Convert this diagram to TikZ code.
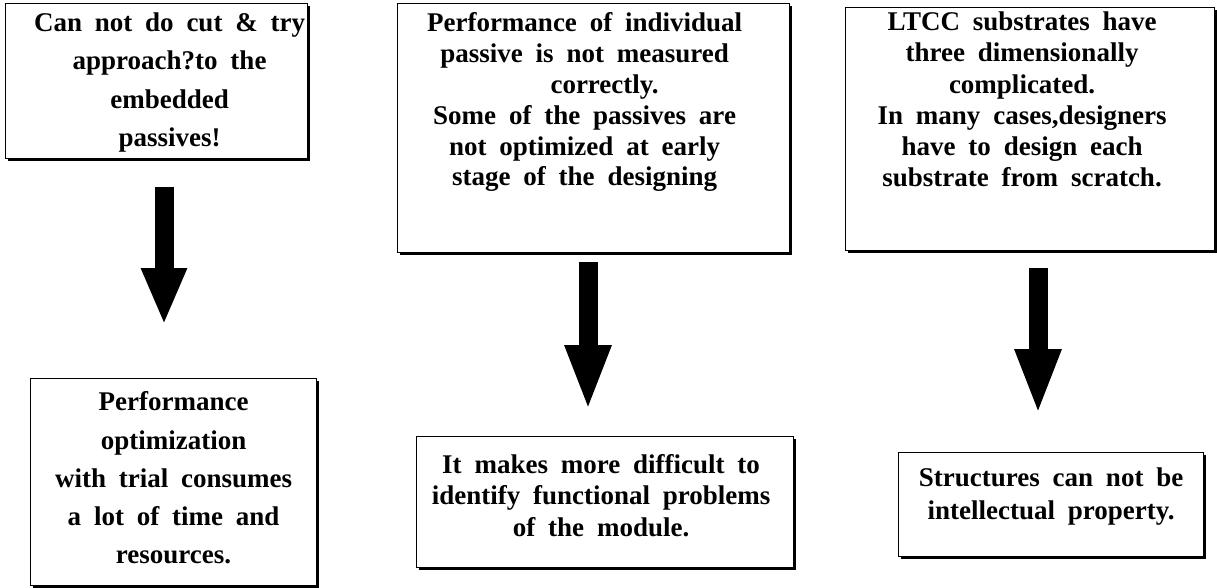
\documentclass[tikz,border=0pt]{standalone}
\usepackage{fontspec}
\setmainfont{Liberation Serif}[WordSpace=1.9]
\usetikzlibrary{arrows.meta, shadows}

% width, height, top pad, leading, x offset, text
\newcommand{\boxtext}[6]{%
  \parbox[c][#2pt][t]{#1pt}{\centering
    \advance\leftskip by #5pt\advance\leftskip by #5pt
    \fontsize{27pt}{#4pt}\selectfont\bfseries
    \vspace*{#3pt}#6}}

\begin{document}
\begin{tikzpicture}[
    x=1pt, y=-1pt,
    box/.style      = {rectangle, draw=black, line width=1.2pt, fill=white,
                       inner sep=0pt, anchor=north west,
                       drop shadow={shadow xshift=2pt, shadow yshift=-2pt,
                                    fill=black, opacity=1}},
    bigarrow/.style = {line width=19pt, draw=black,
                       -{Triangle[length=#1, width=42pt]}},
    bigarrow/.default = 66pt,
]
\useasboundingbox (0,0) rectangle (1217,587);

% problems
\node[box] (prob1) at (5,3)   {\boxtext{302}{155}{9.2}{38.4}{13}{%
    Can not do cut \& try\\ approach?to the\\ embedded\\ passives!}};
\node[box] (prob2) at (397,3) {\boxtext{392}{249}{9.2}{30.8}{-9}{%
    Performance of individual\\ passive is not measured\\
    \hspace*{40pt}correctly.\\ Some of the passives are\\
    not optimized at early\\ stage of the designing}};
\node[box] (prob3) at (845,7) {\boxtext{369}{243}{4.3}{31.2}{-8}{%
    LTCC substrates have\\ three dimensionally\\ complicated.\\
    In many cases,designers\\ have to design each\\
    substrate from scratch.}};

% consequences
\node[box] (eff1) at (30,378)  {\boxtext{286}{207}{13.3}{38.2}{0}{%
    Performance\\ optimization\\ with trial consumes\\
    a lot of time and\\ resources.}};
\node[box] (eff2) at (416,436) {\boxtext{377}{131}{17.7}{31.5}{-4}{%
    It makes more difficult to\\ identify functional problems\\
    of the module.}};
\node[box] (eff3) at (898,452) {\boxtext{305}{104}{15.3}{33}{0}{%
    Structures can not be\\ intellectual property.}};

\coordinate (a1s) at (164,187);  \coordinate (a1e) at (164,325);
\coordinate (a2s) at (588,262);  \coordinate (a2e) at (588,411);
\coordinate (a3s) at (1038,268); \coordinate (a3e) at (1038,415);

\draw[bigarrow=57pt] (a1s) -- (a1e);
\draw[bigarrow]      (a2s) -- (a2e);
\draw[bigarrow]      (a3s) -- (a3e);
\end{tikzpicture}
\end{document}
